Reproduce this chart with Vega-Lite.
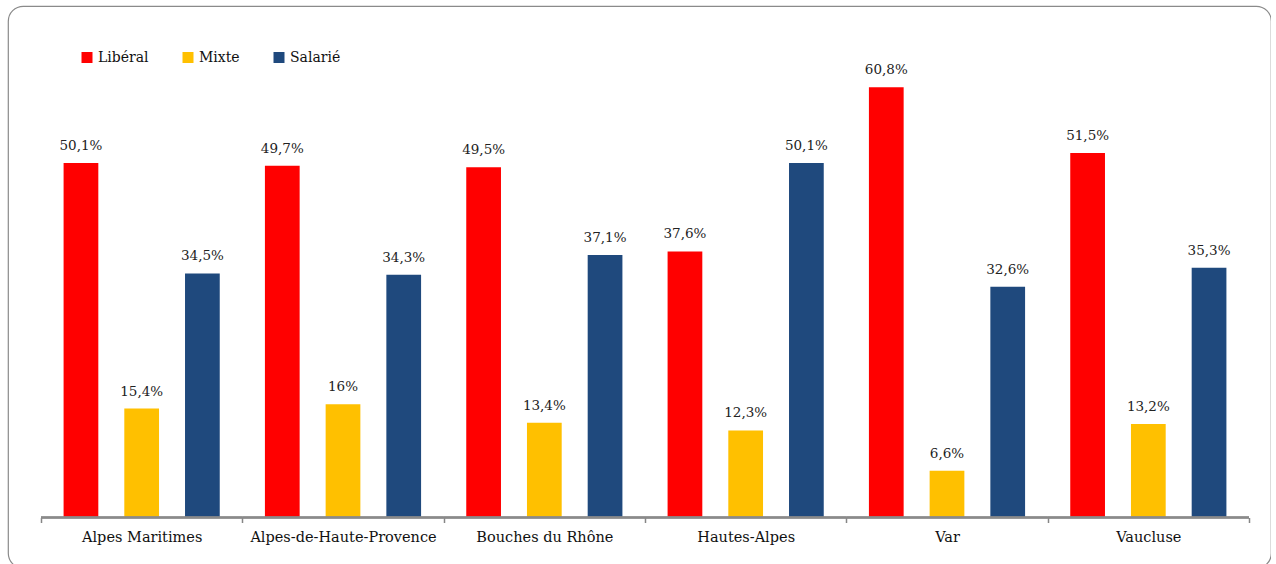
{
  "$schema": "https://vega.github.io/schema/vega-lite/v6.json",
  "width": 1263,
  "height": 562,
  "autosize": {"type": "none"},
  "padding": {"left": 8, "top": 6, "right": 0, "bottom": 0},
  "background": "white",
  "config": {
    "locale": {"number": {"decimal": ",", "thousands": " ", "grouping": [3], "currency": ["", " €"]}},
    "view": {"stroke": "#8a8a8a", "strokeWidth": 1.2, "cornerRadius": 15},
    "font": "DejaVu Serif"
  },
  "data": {
    "values": [
      {"dept": "Alpes Maritimes", "mode": "Libéral", "part": 0.501},
      {"dept": "Alpes Maritimes", "mode": "Mixte", "part": 0.154},
      {"dept": "Alpes Maritimes", "mode": "Salarié", "part": 0.345},
      {"dept": "Alpes-de-Haute-Provence", "mode": "Libéral", "part": 0.497},
      {"dept": "Alpes-de-Haute-Provence", "mode": "Mixte", "part": 0.16},
      {"dept": "Alpes-de-Haute-Provence", "mode": "Salarié", "part": 0.343},
      {"dept": "Bouches du Rhône", "mode": "Libéral", "part": 0.495},
      {"dept": "Bouches du Rhône", "mode": "Mixte", "part": 0.134},
      {"dept": "Bouches du Rhône", "mode": "Salarié", "part": 0.371},
      {"dept": "Hautes-Alpes", "mode": "Libéral", "part": 0.376},
      {"dept": "Hautes-Alpes", "mode": "Mixte", "part": 0.123},
      {"dept": "Hautes-Alpes", "mode": "Salarié", "part": 0.501},
      {"dept": "Var", "mode": "Libéral", "part": 0.608},
      {"dept": "Var", "mode": "Mixte", "part": 0.066},
      {"dept": "Var", "mode": "Salarié", "part": 0.326},
      {"dept": "Vaucluse", "mode": "Libéral", "part": 0.515},
      {"dept": "Vaucluse", "mode": "Mixte", "part": 0.132},
      {"dept": "Vaucluse", "mode": "Salarié", "part": 0.353}
    ]
  },
  "encoding": {
    "x": {
      "field": "dept",
      "type": "nominal",
      "sort": ["Alpes Maritimes", "Alpes-de-Haute-Provence", "Bouches du Rhône", "Hautes-Alpes", "Var", "Vaucluse"],
      "scale": {"paddingInner": 0, "paddingOuter": 0.1366, "align": 0.6},
      "axis": {
        "title": null,
        "orient": "bottom",
        "offset": -50.5,
        "domain": false,
        "grid": false,
        "ticks": true,
        "tickBand": "extent",
        "tickSize": 5,
        "tickColor": "#868686",
        "tickWidth": 1.5,
        "labelAngle": 0,
        "labelFont": "DejaVu Serif",
        "labelFontSize": 14.5,
        "labelColor": "#111111",
        "labelPadding": 8,
        "labelLimit": 0
      }
    },
    "y": {
      "field": "part",
      "type": "quantitative",
      "scale": {"domain": [-0.0714, 0.7229], "nice": false, "zero": false},
      "axis": null
    }
  },
  "layer": [
    {
      "mark": {"type": "bar"},
      "encoding": {
        "xOffset": {
          "field": "mode",
          "type": "nominal",
          "scale": {"paddingInner": 0.428, "paddingOuter": 0.372}
        },
        "color": {
          "field": "mode",
          "type": "nominal",
          "scale": {"domain": ["Libéral", "Mixte", "Salarié"], "range": ["#FF0000", "#FFC000", "#1F497D"]},
          "legend": {
            "title": null,
            "orient": "none",
            "direction": "horizontal",
            "legendX": 72,
            "legendY": 44.5,
            "padding": 0,
            "symbolType": "square",
            "symbolSize": 121,
            "symbolStrokeWidth": 0,
            "symbolOpacity": 1,
            "labelFont": "DejaVu Serif",
            "labelFontSize": 14,
            "labelColor": "#111111",
            "labelOffset": 4,
            "columnPadding": 32
          }
        }
      }
    },
    {
      "mark": {"type": "text", "baseline": "alphabetic", "dy": -13, "font": "DejaVu Serif", "fontSize": 13.5, "color": "#222222"},
      "encoding": {
        "xOffset": {
          "field": "mode",
          "type": "nominal",
          "scale": {"paddingInner": 0.428, "paddingOuter": 0.372}
        },
        "text": {"field": "part", "type": "quantitative", "format": ".1~%"}
      }
    },
    {
      "mark": {"type": "rule", "color": "#8a8a8a", "strokeWidth": 2},
      "encoding": {
        "x": {"field": "dept", "type": "nominal", "bandPosition": 0, "sort": ["Alpes Maritimes", "Alpes-de-Haute-Provence", "Bouches du Rhône", "Hautes-Alpes", "Var", "Vaucluse"]},
        "x2": {"field": "dept", "bandPosition": 1},
        "y": {"datum": 0}
      }
    }
  ]
}
